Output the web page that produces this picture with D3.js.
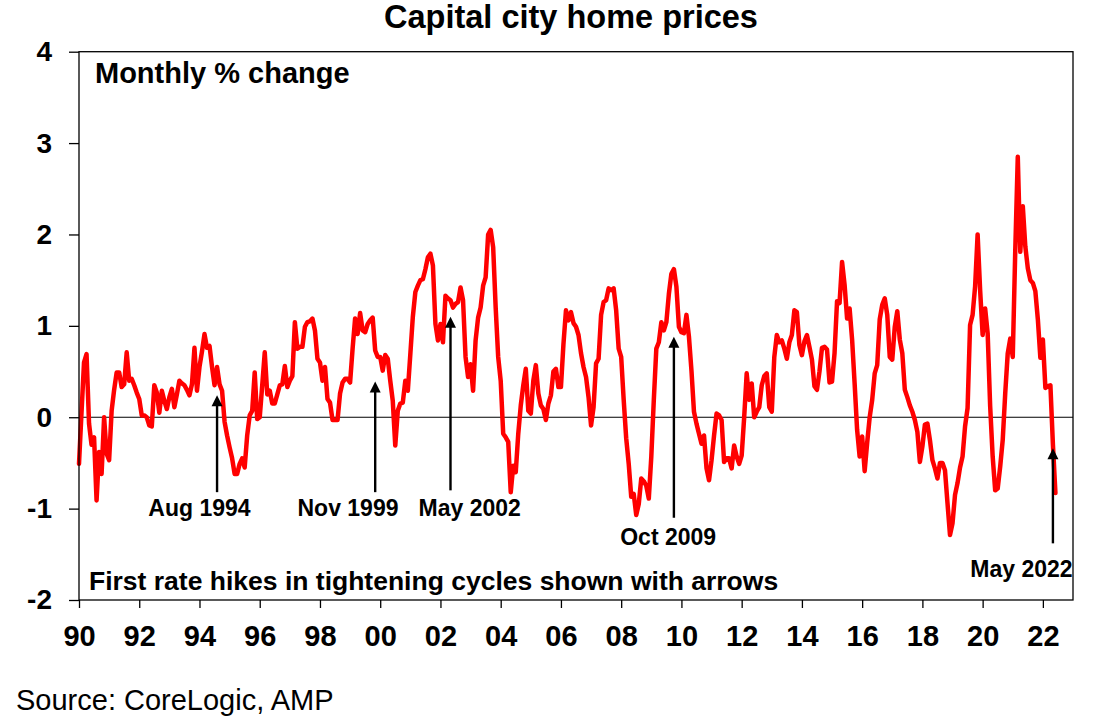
<!DOCTYPE html>
<html>
<head>
<meta charset="utf-8">
<script src="https://cdn.jsdelivr.net/npm/d3@7"></script>
<style>
  body { margin: 0; background: #fff; }
  svg text { font-family: "Liberation Sans", Arial, Helvetica, sans-serif; fill: #000; }
</style>
</head>
<body>
<svg id="chart" width="1105" height="728"></svg>
<script>
// ---------------- DATA ----------------
const startYear = 1990; // first monthly observation: Jan 1990
const values1990s = [
  -0.51, 0.05, 0.60, 0.69, -0.07, -0.30, -0.22, -0.91, -0.38, -0.62, 0.00, -0.40,
  -0.47, 0.07, 0.30, 0.49, 0.49, 0.33, 0.36, 0.71, 0.40, 0.42, 0.35, 0.27,
  0.20, 0.02, 0.02, 0.00, -0.09, -0.10, 0.35, 0.27, 0.05, 0.29, 0.18, 0.09,
  0.22, 0.31, 0.11, 0.25, 0.40, 0.37, 0.35, 0.30, 0.24, 0.36, 0.76, 0.29,
  0.55, 0.72, 0.91, 0.76, 0.78, 0.55, 0.35, 0.55, 0.36, 0.29, -0.05, -0.20,
  -0.33, -0.45, -0.62, -0.62, -0.51, -0.45, -0.55, -0.20, 0.02, 0.07, 0.49, -0.02,
  0.00, 0.35, 0.71, 0.25, 0.29, 0.15, 0.15, 0.25, 0.35, 0.36, 0.56, 0.33,
  0.40, 0.45, 1.04, 0.75, 0.77, 0.77, 0.99, 1.04, 1.05, 1.08, 0.95, 0.64,
  0.60, 0.40, 0.55, 0.20, 0.16, -0.03, -0.03, -0.03, 0.26, 0.38, 0.42, 0.42,
  0.38, 0.75, 1.08, 0.91, 1.14, 0.95, 0.93, 1.02, 1.06, 1.09, 0.73, 0.66
];
const values2000s = [
  0.66, 0.51, 0.68, 0.64, 0.40, 0.18, -0.31, 0.07, 0.15, 0.16, 0.40, 0.29,
  0.69, 1.10, 1.37, 1.44, 1.50, 1.51, 1.62, 1.75, 1.79, 1.66, 1.02, 0.84,
  1.02, 0.82, 1.33, 1.30, 1.28, 1.20, 1.24, 1.26, 1.42, 1.28, 0.66, 0.44,
  0.58, 0.29, 0.84, 1.09, 1.20, 1.44, 1.53, 2.00, 2.05, 1.86, 1.20, 0.66,
  0.40, -0.18, -0.22, -0.27, -0.82, -0.53, -0.60, -0.18, 0.13, 0.35, 0.53, 0.07,
  0.04, 0.40, 0.57, 0.26, 0.13, 0.09, -0.03, 0.15, 0.24, 0.50, 0.53, 0.33,
  0.33, 0.80, 1.17, 1.06, 1.15, 1.03, 0.99, 0.90, 0.70, 0.55, 0.44, 0.22,
  -0.09, 0.11, 0.59, 0.64, 1.12, 1.26, 1.28, 1.41, 1.39, 1.41, 1.17, 0.75,
  0.66, 0.19, -0.23, -0.51, -0.87, -0.84, -1.07, -0.95, -0.67, -0.70, -0.75, -0.89,
  -0.43, 0.19, 0.75, 0.82, 1.04, 0.95, 1.04, 1.35, 1.57, 1.62, 1.43, 0.99
];
const values2010s = [
  0.93, 0.92, 1.12, 0.88, 0.51, 0.06, -0.07, -0.18, -0.29, -0.20, -0.56, -0.69,
  -0.47, -0.20, 0.04, 0.02, -0.03, -0.49, -0.45, -0.45, -0.56, -0.31, -0.43, -0.51,
  -0.42, 0.00, 0.48, 0.19, 0.37, 0.00, 0.06, 0.11, 0.35, 0.45, 0.48, 0.11,
  0.06, 0.66, 0.90, 0.82, 0.84, 0.75, 0.64, 0.82, 0.90, 1.17, 1.15, 0.79,
  0.68, 0.83, 0.90, 0.77, 0.63, 0.34, 0.30, 0.50, 0.76, 0.77, 0.74, 0.38,
  0.39, 0.70, 1.27, 1.25, 1.70, 1.45, 1.08, 1.19, 0.85, 0.37, -0.14, -0.43,
  -0.21, -0.59, -0.28, 0.00, 0.19, 0.48, 0.57, 1.07, 1.23, 1.30, 1.12, 0.66,
  0.63, 0.99, 1.16, 0.85, 0.70, 0.30, 0.22, 0.13, 0.06, -0.03, -0.16, -0.49,
  -0.32, -0.08, -0.07, -0.25, -0.47, -0.56, -0.67, -0.50, -0.50, -0.58, -0.94, -1.29,
  -1.16, -0.85, -0.72, -0.55, -0.43, -0.10, 0.10, 1.01, 1.12, 1.43, 2.00, 1.39
];
const values2020s = [
  0.90, 1.19, 0.92, 0.12, -0.43, -0.80, -0.78, -0.54, -0.25, 0.26, 0.70, 0.86,
  0.66, 1.83, 2.85, 1.81, 2.31, 1.87, 1.63, 1.50, 1.47, 1.38, 1.07, 0.65,
  0.85, 0.32, 0.34, 0.35, -0.30, -0.83
];
const monthlyChange = values1990s.concat(values2000s, values2010s, values2020s);

const xTickYears = [1990,1992,1994,1996,1998,2000,2002,2004,2006,2008,2010,2012,2014,2016,2018,2020,2022];
const yTickValues = [-2, -1, 0, 1, 2, 3, 4];

// first rate hikes (arrows): date, arrow tip value, arrow tail value
const arrowLabels = ["Aug 1994", "Nov 1999", "May 2002", "Oct 2009", "May 2022"];
const arrowYears  = [1994, 1999, 2002, 2009, 2022];
const arrowMonths = [8, 11, 5, 10, 5];
const arrowTips   = [0.24, 0.39, 1.10, 0.88, -0.34];
const arrowTails  = [-0.82, -0.82, -0.80, -1.10, -1.38];
const labelYears  = [1994.0, 1998.93, 2002.97, 2009.56, 2021.29];
const labelValues = [-1.08, -1.08, -1.08, -1.40, -1.745];

// ---------------- CHART ----------------
const svg = d3.select("#chart");
const plot = { left: 79, right: 1073, top: 51.7, bottom: 600 };

const x = d3.scaleLinear().domain([1990, 2023]).range([plot.left, plot.right]);
const y = d3.scaleLinear().domain([-2, 4]).range([plot.bottom, plot.top]);

// Title
svg.append("text")
  .attr("x", 571).attr("y", 28)
  .attr("text-anchor", "middle")
  .style("font-size", "32.5px").style("font-weight", "bold")
  .text("Capital city home prices");

// Zero line
svg.append("line")
  .attr("x1", plot.left).attr("x2", plot.right)
  .attr("y1", y(0)).attr("y2", y(0))
  .attr("stroke", "#000").attr("stroke-width", 1.1);

// Data line
const line = d3.line()
  .x((d, i) => x(startYear + i / 12))
  .y(d => y(d))
  .curve(d3.curveLinear);

svg.append("path")
  .datum(monthlyChange)
  .attr("d", line)
  .attr("fill", "none")
  .attr("stroke", "#FF0000")
  .attr("stroke-width", 4.5)
  .attr("stroke-linejoin", "round")
  .attr("stroke-linecap", "round");

// Frame
svg.append("rect")
  .attr("x", plot.left).attr("y", plot.top)
  .attr("width", plot.right - plot.left).attr("height", plot.bottom - plot.top)
  .attr("fill", "none").attr("stroke", "#000").attr("stroke-width", 1.3);

// X axis
const xAxis = svg.append("g")
  .attr("transform", `translate(0,${plot.bottom})`)
  .call(d3.axisBottom(x)
    .tickValues(xTickYears)
    .tickFormat(d => String(d).slice(2))
    .tickSize(8)
    .tickPadding(17));
xAxis.select(".domain").remove();
xAxis.selectAll("line").attr("stroke", "#000").attr("stroke-width", 1.3);
xAxis.selectAll("text")
  .style("font-size", "29px").style("font-weight", "bold")
  .attr("font-family", null);

// Y axis
const yAxis = svg.append("g")
  .attr("transform", `translate(${plot.left},0)`)
  .call(d3.axisLeft(y)
    .tickValues(yTickValues)
    .tickFormat(d => String(d))
    .tickSize(10)
    .tickPadding(17));
yAxis.select(".domain").remove();
yAxis.selectAll("line").attr("stroke", "#000").attr("stroke-width", 1.3);
yAxis.selectAll("text")
  .style("font-size", "28px").style("font-weight", "bold")
  .attr("font-family", null);

// In-plot labels
svg.append("text")
  .attr("x", 95).attr("y", 83)
  .style("font-size", "29px").style("font-weight", "bold")
  .text("Monthly % change");

svg.append("text")
  .attr("x", 89).attr("y", 590)
  .style("font-size", "26.5px").style("font-weight", "bold")
  .text("First rate hikes in tightening cycles shown with arrows");

// Arrows
const head = 11, halfW = 5.5;
arrowLabels.forEach((lab, i) => {
  const ax = x(arrowYears[i] + (arrowMonths[i] - 1) / 12);
  const yTip = y(arrowTips[i]);
  const yTail = y(arrowTails[i]);
  svg.append("line")
    .attr("x1", ax).attr("x2", ax)
    .attr("y1", yTail).attr("y2", yTip + head - 1)
    .attr("stroke", "#000").attr("stroke-width", 2.4);
  svg.append("path")
    .attr("d", `M${ax},${yTip} L${ax - halfW},${yTip + head} L${ax + halfW},${yTip + head} Z`)
    .attr("fill", "#000");
  svg.append("text")
    .attr("x", x(labelYears[i])).attr("y", y(labelValues[i]))
    .attr("text-anchor", "middle")
    .style("font-size", "23px").style("font-weight", "bold")
    .text(lab);
});

// Source
svg.append("text")
  .attr("x", 16).attr("y", 710)
  .style("font-size", "29px")
  .text("Source: CoreLogic, AMP");
</script>
</body>
</html>
